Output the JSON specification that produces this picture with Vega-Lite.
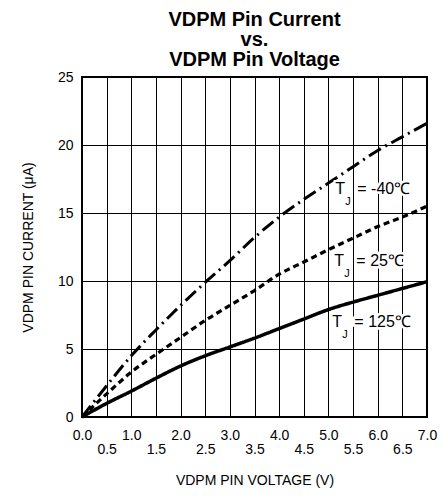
{
  "$schema": "https://vega.github.io/schema/vega-lite/v6.json",
  "autosize": "none",
  "width": 345,
  "height": 340,
  "padding": {"left": 82, "top": 77, "right": 16, "bottom": 81},
  "background": "white",
  "config": {
    "view": {"stroke": "black", "strokeWidth": 2},
    "axis": {"labelFont": "Liberation Sans", "titleFont": "Liberation Sans", "labelColor": "black", "titleColor": "black", "labelFontSize": 14, "titleFontSize": 14, "titleFontWeight": "normal", "grid": true, "gridColor": "black", "gridOpacity": 1, "gridWidth": 1, "ticks": false, "domain": false}
  },
  "title": {
    "text": ["VDPM Pin Current", "vs.", "VDPM Pin Voltage"],
    "font": "Liberation Sans",
    "fontSize": 20,
    "fontWeight": "bold",
    "lineHeight": 20,
    "color": "black",
    "anchor": "middle",
    "offset": 0
  },
  "datasets": {
    "curves": [
      {"v": 0.0, "i": 0.0, "series": "-40"},
      {"v": 0.5, "i": 2.3, "series": "-40"},
      {"v": 1.0, "i": 4.5, "series": "-40"},
      {"v": 1.5, "i": 6.4, "series": "-40"},
      {"v": 2.0, "i": 8.2, "series": "-40"},
      {"v": 2.5, "i": 9.9, "series": "-40"},
      {"v": 3.0, "i": 11.5, "series": "-40"},
      {"v": 3.5, "i": 13.2, "series": "-40"},
      {"v": 4.0, "i": 14.7, "series": "-40"},
      {"v": 4.5, "i": 16.0, "series": "-40"},
      {"v": 5.0, "i": 17.2, "series": "-40"},
      {"v": 5.5, "i": 18.4, "series": "-40"},
      {"v": 6.0, "i": 19.6, "series": "-40"},
      {"v": 6.5, "i": 20.6, "series": "-40"},
      {"v": 7.0, "i": 21.6, "series": "-40"},
      {"v": 0.0, "i": 0.0, "series": "25"},
      {"v": 0.5, "i": 1.7, "series": "25"},
      {"v": 1.0, "i": 3.3, "series": "25"},
      {"v": 1.5, "i": 4.6, "series": "25"},
      {"v": 2.0, "i": 5.85, "series": "25"},
      {"v": 2.5, "i": 7.1, "series": "25"},
      {"v": 3.0, "i": 8.2, "series": "25"},
      {"v": 3.5, "i": 9.3, "series": "25"},
      {"v": 4.0, "i": 10.5, "series": "25"},
      {"v": 4.5, "i": 11.4, "series": "25"},
      {"v": 5.0, "i": 12.3, "series": "25"},
      {"v": 5.5, "i": 13.15, "series": "25"},
      {"v": 6.0, "i": 14.0, "series": "25"},
      {"v": 6.5, "i": 14.7, "series": "25"},
      {"v": 7.0, "i": 15.5, "series": "25"},
      {"v": 0.0, "i": 0.0, "series": "125"},
      {"v": 0.5, "i": 1.0, "series": "125"},
      {"v": 1.0, "i": 1.9, "series": "125"},
      {"v": 1.5, "i": 2.85, "series": "125"},
      {"v": 2.0, "i": 3.75, "series": "125"},
      {"v": 2.5, "i": 4.5, "series": "125"},
      {"v": 3.0, "i": 5.15, "series": "125"},
      {"v": 3.5, "i": 5.8, "series": "125"},
      {"v": 4.0, "i": 6.5, "series": "125"},
      {"v": 4.5, "i": 7.2, "series": "125"},
      {"v": 5.0, "i": 7.9, "series": "125"},
      {"v": 5.5, "i": 8.45, "series": "125"},
      {"v": 6.0, "i": 8.95, "series": "125"},
      {"v": 6.5, "i": 9.45, "series": "125"},
      {"v": 7.0, "i": 9.95, "series": "125"}
    ],
    "labels": [
      {"x": 5.14, "y": 16.76, "text": "= -40℃"},
      {"x": 5.12, "y": 11.47, "text": "= 25℃"},
      {"x": 5.08, "y": 6.95, "text": "= 125℃"}
    ]
  },
  "resolve": {"axis": {"x": "independent"}},
  "layer": [
    {
      "data": {"name": "curves"},
      "mark": {"type": "line", "color": "black", "interpolate": "monotone", "strokeCap": "butt"},
      "encoding": {
        "x": {"field": "v", "type": "quantitative", "scale": {"domain": [0, 7], "nice": false}, "axis": {"orient": "bottom", "values": [0, 1, 2, 3, 4, 5, 6, 7], "tickCount": 20, "grid": true, "format": ".1f", "labelBaseline": "top", "labelPadding": 11, "labelFlush": false, "labelOverlap": false, "title": null}},
        "y": {"field": "i", "type": "quantitative", "scale": {"domain": [0, 25], "nice": false}, "axis": {"values": [0, 5, 10, 15, 20, 25], "tickCount": 10, "labelPadding": 9, "title": "VDPM PIN CURRENT (μA)", "titlePadding": 22}},
        "detail": {"field": "series"},
        "strokeDash": {"field": "series", "type": "nominal", "scale": {"domain": ["125", "25", "-40"], "range": [[1, 0], [6, 4], [14, 5, 2, 5]]}, "legend": null},
        "strokeWidth": {"field": "series", "type": "nominal", "scale": {"domain": ["125", "25", "-40"], "range": [3.5, 3, 3]}, "legend": null}
      }
    },
    {
      "data": {"name": "labels"},
      "mark": {"type": "text", "text": "T", "align": "left", "baseline": "middle", "font": "Liberation Sans", "fontSize": 16, "stroke": "white", "strokeWidth": 4, "fill": "white"},
      "encoding": {
        "x": {"field": "x", "type": "quantitative", "scale": {"domain": [0, 7], "nice": false}, "axis": {"orient": "bottom", "values": [0.5, 1.5, 2.5, 3.5, 4.5, 5.5, 6.5], "tickCount": 20, "grid": true, "format": ".1f", "labelBaseline": "top", "labelPadding": 25, "labelFlush": false, "labelOverlap": false, "title": "VDPM PIN VOLTAGE (V)", "titlePadding": 17}},
        "y": {"field": "y", "type": "quantitative", "axis": {"values": [0, 5, 10, 15, 20, 25], "tickCount": 10, "labelPadding": 9, "title": "VDPM PIN CURRENT (μA)", "titlePadding": 22}}
      }
    },
    {
      "data": {"name": "labels"},
      "mark": {"type": "text", "align": "left", "baseline": "middle", "font": "Liberation Sans", "fontSize": 16, "dx": 22, "stroke": "white", "strokeWidth": 5, "fill": "white"},
      "encoding": {"x": {"field": "x", "type": "quantitative", "axis": null}, "y": {"field": "y", "type": "quantitative", "axis": {"values": [0, 5, 10, 15, 20, 25], "tickCount": 10, "labelPadding": 9, "title": "VDPM PIN CURRENT (μA)", "titlePadding": 22}}, "text": {"field": "text"}}
    },
    {
      "data": {"name": "labels"},
      "mark": {"type": "text", "text": "T", "align": "left", "baseline": "middle", "font": "Liberation Sans", "fontSize": 16, "color": "black"},
      "encoding": {"x": {"field": "x", "type": "quantitative", "axis": null}, "y": {"field": "y", "type": "quantitative", "axis": {"values": [0, 5, 10, 15, 20, 25], "tickCount": 10, "labelPadding": 9, "title": "VDPM PIN CURRENT (μA)", "titlePadding": 22}}}
    },
    {
      "data": {"name": "labels"},
      "mark": {"type": "text", "text": "J", "align": "left", "baseline": "middle", "font": "Liberation Sans", "fontSize": 11, "dx": 10, "dy": 13, "color": "black"},
      "encoding": {"x": {"field": "x", "type": "quantitative", "axis": null}, "y": {"field": "y", "type": "quantitative", "axis": {"values": [0, 5, 10, 15, 20, 25], "tickCount": 10, "labelPadding": 9, "title": "VDPM PIN CURRENT (μA)", "titlePadding": 22}}}
    },
    {
      "data": {"name": "labels"},
      "mark": {"type": "text", "align": "left", "baseline": "middle", "font": "Liberation Sans", "fontSize": 16, "dx": 22, "color": "black"},
      "encoding": {"x": {"field": "x", "type": "quantitative", "axis": null}, "y": {"field": "y", "type": "quantitative", "axis": {"values": [0, 5, 10, 15, 20, 25], "tickCount": 10, "labelPadding": 9, "title": "VDPM PIN CURRENT (μA)", "titlePadding": 22}}, "text": {"field": "text"}}
    }
  ]
}
